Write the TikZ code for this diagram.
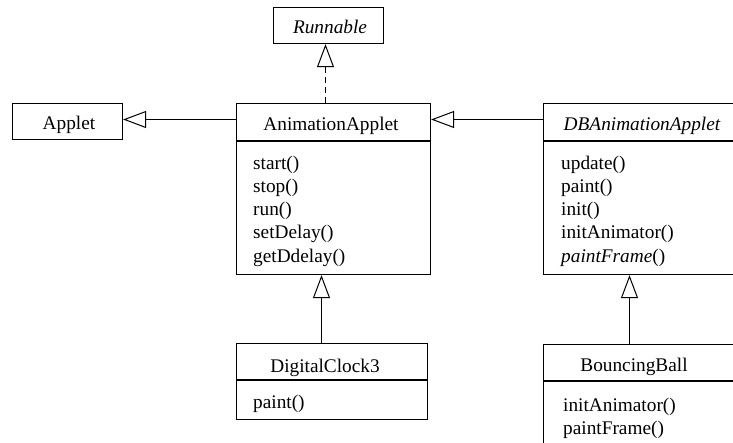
\documentclass[tikz,border=0pt]{standalone}
\usepackage{fontspec}
\setmainfont{Liberation Serif}
\usetikzlibrary{arrows.meta}

\begin{document}
\begin{tikzpicture}[x=1pt,y=-1pt,
  classbox/.style={draw,line width=1.1pt,rectangle,inner sep=0pt,anchor=north west},
  label/.style={inner sep=0pt,font=\fontsize{19.3}{23}\selectfont},
  title/.style={label,anchor=base},
  method/.style={label,anchor=base west},
  divider/.style={line width=1.1pt},
  inherits/.style={line width=1pt,-{Triangle[open,length=23pt,width=17pt,line width=1pt]}},
  realizes/.style={inherits,dash pattern=on 6pt off 4pt}]
\useasboundingbox (0,0) rectangle (733,442);
\clip (0,0) rectangle (733,442);

% class boxes
\node[classbox,minimum width=110pt,minimum height=36pt] (runnable) at (273,7) {};
\node[classbox,minimum width=110pt,minimum height=36pt] (applet) at (12,103) {};
\node[classbox,minimum width=194pt,minimum height=171pt] (anim) at (236,103) {};
\node[classbox,minimum width=202pt,minimum height=171pt] (dbanim) at (543,103) {};
\node[classbox,minimum width=191pt,minimum height=76pt] (clock) at (236,343) {};
\node[classbox,minimum width=202pt,minimum height=140pt] (ball) at (543,344) {};

% compartment dividers
\draw[divider] (anim.west |- 0,141) -- (anim.east |- 0,141);
\draw[divider] (dbanim.west |- 0,141) -- (dbanim.east |- 0,141);
\draw[divider] (clock.west |- 0,380) -- (clock.east |- 0,380);
\draw[divider] (ball.west |- 0,381) -- (ball.east |- 0,381);

% class names
\node[title] (t-runnable) at (330,33.3) {\itshape Runnable};
\node[title] (t-applet) at (69,129.3) {Applet};
\node[title] (t-anim) at (331,130) {AnimationApplet};
\node[title] (t-dbanim) at (642,130.5) {\itshape DBAnimationApplet};
\node[title] (t-clock) at (325,372.7) {DigitalClock3};
\node[title] (t-ball) at (634,371.7) {BouncingBall};

% operations of AnimationApplet
\node[method] (a1) at (253,169.0) {start()};
\node[method] (a2) at (253,192.3) {stop()};
\node[method] (a3) at (253,215.6) {run()};
\node[method] (a4) at (253,238.9) {setDelay()};
\node[method] (a5) at (253,262.2) {getDdelay()};

% operations of DBAnimationApplet
\node[method] (d1) at (561,169.0) {update()};
\node[method] (d2) at (561,192.3) {paint()};
\node[method] (d3) at (561,215.6) {init()};
\node[method] (d4) at (561,238.9) {initAnimator()};
\node[method] (d5) at (561,262.2) {\textit{paintFrame}()};

% operations of DigitalClock3
\node[method] (c1) at (253,408) {paint()};

% operations of BouncingBall
\node[method] (b1) at (563,411.8) {initAnimator()};
\node[method] (b2) at (563,434.2) {paintFrame()};

% generalisation and realisation
\draw[inherits] (anim.west |- 0,119.5) -- (applet.east |- 0,119.5);
\draw[inherits] (dbanim.west |- 0,119.5) -- (anim.east |- 0,119.5);
\draw[realizes] (anim.north -| 325.5,0) -- (runnable.south -| 325.5,0);
\draw[inherits] (clock.north -| 321.5,0) -- (anim.south -| 321.5,0);
\draw[inherits] (ball.north -| 629.5,0) -- (dbanim.south -| 629.5,0);
\end{tikzpicture}
\end{document}
